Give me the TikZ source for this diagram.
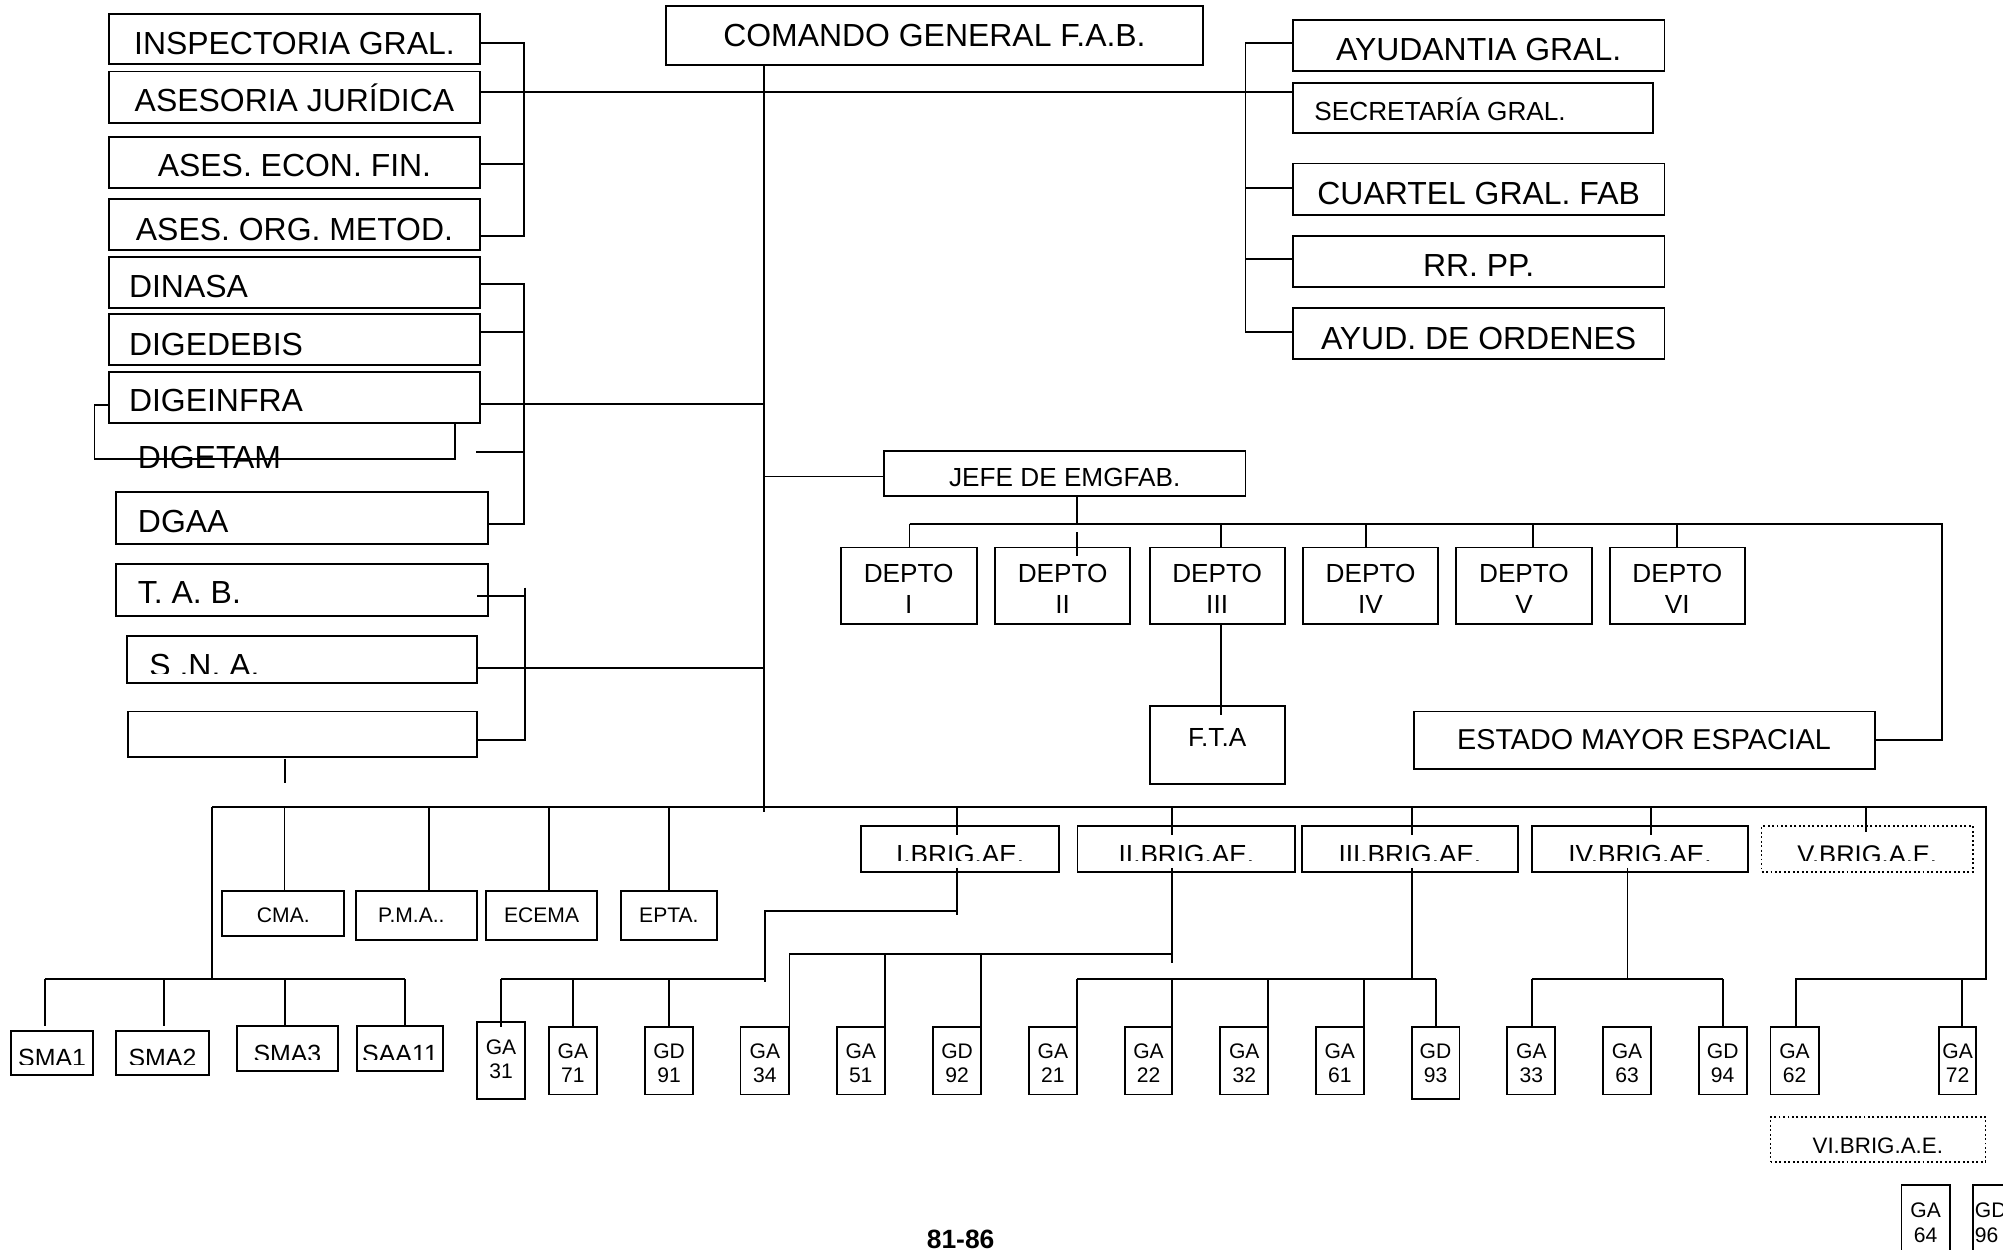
\documentclass[tikz,border=0pt]{standalone}
\usepackage{fontspec}
\setmainfont{Liberation Sans}
\newcommand\rbox[6][]{\node[box,#1,minimum width={(#5-#3)*1pt},minimum height={(#6-#4)*1pt}] (#2) at ({(#3+#5)/2},{(#4+#6)/2}) {};}
\newcommand\tx[5][]{\node[inner sep=0pt,outer sep=0pt,anchor=base,#1] (#2) at (#3,#4) {#5};}
\newcommand\ctx[6][]{\begin{scope}\clip ({#3-150},{#4-40}) rectangle ({#3+150},#5);\node[inner sep=0pt,outer sep=0pt,anchor=base,#1] (#2) at (#3,#4) {#6};\end{scope}}
\newcommand\gabox[8]{\rbox{#1}{#2}{#3}{#4}{#5}\tx[fS]{#1a}{{(#2+#4)/2}}{#8}{#6}\tx[fS]{#1b}{{(#2+#4)/2}}{{#8+19}}{#7}}
\begin{document}
\begin{tikzpicture}[x=1pt,y=-1pt,
  box/.style={draw,line width=1.5pt,inner sep=0pt,outer sep=0pt},
  ln/.style={line width=1.5pt},
  fL/.style={font=\fontsize{25}{30}\selectfont},
  fM/.style={font=\fontsize{20.5}{24}\selectfont},
  fE/.style={font=\fontsize{22.5}{26}\selectfont},
  fS/.style={font=\fontsize{16.5}{20}\selectfont},
  fSM/.style={font=\fontsize{19.5}{23}\selectfont},
  fV/.style={font=\fontsize{17.5}{21}\selectfont},
  fB/.style={font=\fontsize{20.7}{24}\selectfont\bfseries}]
\useasboundingbox (0,0) rectangle (1568,978.53);
\clip (0,0) rectangle (1568,978.53);

% ---------- left column ----------
\rbox{inspect}{85}{11}{376}{50}
\tx[fL]{tinspect}{230.5}{43}{INSPECTORIA GRAL.}
\rbox{aseso}{85}{56}{376}{96}
\tx[fL]{taseso}{230.5}{87.4}{ASESORIA JURÍDICA}
\rbox{econ}{85}{107}{376}{147}
\tx[fL]{tecon}{230.5}{138.3}{ASES. ECON. FIN.}
\rbox{org}{85}{156}{376}{196}
\tx[fL]{torg}{230.5}{188}{ASES. ORG. METOD.}
\rbox{dinasa}{85}{201}{376}{241}
\tx[fL,anchor=base west]{tdinasa}{101}{233}{DINASA}
\rbox{digede}{85}{246}{376}{286}
\tx[fL,anchor=base west]{tdigede}{101}{278}{DIGEDEBIS}
\rbox{digetam}{74}{317}{356}{359}
\rbox[fill=white]{digeinfra}{85}{291}{376}{331}
\tx[fL,anchor=base west]{tdigeinfra}{101}{322.3}{DIGEINFRA}
\tx[fL,anchor=base west]{tdigetam}{108}{366.7}{DIGETAM}
\rbox{dgaa}{91}{385}{382}{426}
\tx[fL,anchor=base west]{tdgaa}{108}{417}{DGAA}
\rbox{tab}{91}{441.6}{382}{482}
\tx[fL,anchor=base west]{ttab}{108}{472.4}{T. A. B.}
\rbox{sna}{99.7}{498}{373.2}{534.5}
\ctx[fL,anchor=base west]{tsna}{117}{529.5}{527.2}{S .N. A.}
\rbox{empty}{100}{557}{373.5}{592.5}

% ---------- top ----------
\rbox{comando}{521}{5}{942}{51}
\tx[fL]{tcomando}{731.5}{36.5}{COMANDO GENERAL F.A.B.}
\rbox{ayud}{1012}{15.7}{1303}{55.6}
\tx[fL]{tayud}{1157.5}{47.5}{AYUDANTIA GRAL.}
\rbox{secre}{1012}{65}{1294}{104}
\tx[fM,anchor=base west]{tsecre}{1029}{94}{SECRETARÍA GRAL.}
\rbox{cuartel}{1012}{128}{1303}{168}
\tx[fL]{tcuartel}{1157.5}{160}{CUARTEL GRAL. FAB}
\rbox{rrpp}{1012}{185}{1303}{225}
\tx[fL]{trrpp}{1157.5}{216.5}{RR. PP.}
\rbox{orden}{1012}{241}{1303}{281}
\tx[fL]{torden}{1157.5}{273.5}{AYUD. DE ORDENES}

% ---------- estado mayor ----------
\rbox{jefe}{692}{353}{975}{388}
\tx[fM]{tjefe}{833.5}{381}{JEFE DE EMGFAB.}
\rbox{dI}{658}{428.6}{764.6}{488.6}
\rbox{dII}{779}{428.6}{884.8}{488.6}
\rbox{dIII}{900}{428.6}{1005.6}{488.6}
\rbox{dIV}{1020}{428.6}{1125.8}{488.6}
\rbox{dV}{1140}{428.6}{1246}{488.6}
\rbox{dVI}{1260}{428.6}{1366}{488.6}
\tx[fM]{tdIa}{711.3}{456}{DEPTO}\tx[fM]{tdIb}{711.3}{480}{I}
\tx[fM]{tdIIa}{831.9}{456}{DEPTO}\tx[fM]{tdIIb}{831.9}{480}{II}
\tx[fM]{tdIIIa}{952.8}{456}{DEPTO}\tx[fM]{tdIIIb}{952.8}{480}{III}
\tx[fM]{tdIVa}{1072.9}{456}{DEPTO}\tx[fM]{tdIVb}{1072.9}{480}{IV}
\tx[fM]{tdVa}{1193}{456}{DEPTO}\tx[fM]{tdVb}{1193}{480}{V}
\tx[fM]{tdVIa}{1313}{456}{DEPTO}\tx[fM]{tdVIb}{1313}{480}{VI}
\rbox{fta}{900}{553}{1005.6}{614}
\tx[fM]{tfta}{952.8}{584}{F.T.A}
\rbox{estado}{1107}{557}{1467.7}{602}
\tx[fE]{testado}{1287}{587}{ESTADO MAYOR ESPACIAL}

% ---------- lower units ----------
\rbox{cma}{174}{697.4}{269.6}{733}
\tx[fS]{tcma}{221.8}{722.5}{CMA.}
\rbox{pma}{278.6}{697.4}{373.5}{735.6}
\tx[fS]{tpma}{322}{722.5}{P.M.A..}
\rbox{ecema}{380.6}{697.4}{467.4}{735.6}
\tx[fS]{tecema}{424}{722.5}{ECEMA}
\rbox{epta}{485.9}{697.4}{561.3}{735.6}
\tx[fS]{tepta}{523.6}{722.5}{EPTA.}

\rbox{brigI}{674}{646.8}{829.2}{682.5}
\ctx[fM]{tbrigI}{751.6}{676.3}{673.4}{I.BRIG.AE.}
\rbox{brigII}{843.5}{646.8}{1014}{682.5}
\ctx[fM]{tbrigII}{928.7}{676.3}{673.4}{II.BRIG.AE.}
\rbox{brigIII}{1019}{646.8}{1188.5}{682.5}
\ctx[fM]{tbrigIII}{1103.7}{676.3}{673.4}{III.BRIG.AE.}
\rbox{brigIV}{1199}{646.8}{1368.7}{682.5}
\ctx[fM]{tbrigIV}{1283.8}{676.3}{673.4}{IV.BRIG.AE.}
\rbox[dotted,line width=1.2pt]{brigV}{1379}{646.8}{1544.5}{682.5}
\ctx[font=\fontsize{20}{24}\selectfont]{tbrigV}{1461.7}{676.3}{673.4}{V.BRIG.A.E.}
\rbox[dotted,line width=1.2pt]{brigVI}{1386}{874.4}{1554.3}{909.6}
\tx[fV]{tbrigVI}{1470}{903}{VI.BRIG.A.E.}

\rbox{sma1}{8.6}{807}{73}{841.7}
\ctx[fSM]{tsma1}{40.8}{834.8}{833.4}{SMA1}
\rbox{sma2}{90.8}{807}{163.6}{841.7}
\ctx[fSM]{tsma2}{127.2}{834.8}{833.4}{SMA2}
\rbox{sma3}{185.3}{803.4}{264.9}{838.6}
\ctx[fSM]{tsma3}{225}{832}{829.5}{SMA3}
\rbox{saa11}{279.3}{803.4}{347.1}{838.6}
\ctx[fSM]{tsaa11}{313.2}{832}{829.5}{SAA11}

\gabox{ga31}{373.5}{800}{411}{860.6}{GA}{31}{825.5}
\gabox{ga71}{429.5}{804}{467.4}{856.8}{GA}{71}{828.6}
\gabox{gd91}{504.9}{804}{542.7}{856.8}{GD}{91}{828.6}
\gabox{ga34}{579.7}{804}{617.8}{856.8}{GA}{34}{828.6}
\gabox{ga51}{655}{804}{692.6}{856.8}{GA}{51}{828.6}
\gabox{gd92}{730.5}{804}{768}{856.8}{GD}{92}{828.6}
\gabox{ga21}{805.5}{804}{843}{856.8}{GA}{21}{828.6}
\gabox{ga22}{880.4}{804}{917.8}{856.8}{GA}{22}{828.6}
\gabox{ga32}{955.3}{804}{992.8}{856.8}{GA}{32}{828.6}
\gabox{ga61}{1030}{804}{1067.6}{856.8}{GA}{61}{828.6}
\gabox{gd93}{1105}{804}{1142.5}{860.6}{GD}{93}{828.6}
\gabox{ga33}{1180}{804}{1217.6}{856.8}{GA}{33}{828.6}
\gabox{ga63}{1255}{804}{1292.4}{856.8}{GA}{63}{828.6}
\gabox{gd94}{1329.8}{804}{1367.3}{856.8}{GD}{94}{828.6}
\gabox{ga62}{1386}{804}{1423.6}{856.8}{GA}{62}{828.6}
\gabox{ga72}{1518}{804}{1547}{856.8}{GA}{72}{828.6}
\gabox{ga64}{1488.5}{927.9}{1526.3}{990}{GA}{64}{953.3}
\rbox{gd96}{1544.3}{927.9}{1582}{990}
\tx[fS,anchor=base west]{tgd96a}{1546}{953.3}{GD}
\tx[fS,anchor=base west]{tgd96b}{1546}{972.3}{96}

\tx[fB]{tpage}{752}{977.2}{81-86}

% ---------- connectors ----------
% left brackets
\draw[ln] (inspect.east |- 0,34) -- (410,34) -- (410,184.6) -- (org.east |- 0,184.6);
\draw[ln] (econ.east |- 0,128.5) -- (410,128.5);
\draw[ln] (aseso.east |- 0,72) -- (secre.west |- 0,72);
\draw[ln] (dinasa.east |- 0,222) -- (410,222) -- (410,410) -- (dgaa.east |- 0,410);
\draw[ln] (digede.east |- 0,260) -- (410,260);
\draw[ln] (digeinfra.east |- 0,316) -- (598,316);
\draw[ln] (373,354) -- (410,354);
\draw[ln] (373.6,466.7) -- (410.7,466.7);
\draw[ln] (410.7,460) -- (410.7,579.4) -- (empty.east |- 0,579.4);
\draw[ln] (sna.east |- 0,522.8) -- (598,522.8);
\draw[ln] (223,594) -- (223,613);
% trunk
\draw[ln] (comando.south -| 598,0) -- (598,635.6);
% right bracket
\draw[ln] (ayud.west |- 0,34) -- (975,34) -- (975,260) -- (orden.west |- 0,260);
\draw[ln] (975,147.5) -- (cuartel.west |- 0,147.5);
\draw[ln] (975,203) -- (rrpp.west |- 0,203);
% jefe
\draw[ln] (598,373) -- (jefe.west |- 0,373);
\draw[ln] (jefe.south -| 843,0) -- (843,410);
\draw[ln] (712,410) -- (1520,410) -- (1520,579.6) -- (estado.east |- 0,579.6);
\draw[ln] (712,410) -- (dI.north -| 712,0);
\draw[ln] (843,416.8) -- (843,435);
\draw[ln] (955.7,410) -- (dIII.north -| 955.7,0);
\draw[ln] (1069,410) -- (dIV.north -| 1069,0);
\draw[ln] (1200,410) -- (dV.north -| 1200,0);
\draw[ln] (1313,410) -- (dVI.north -| 1313,0);
\draw[ln] (dIII.south -| 955.7,0) -- (955.7,560);
% bottom bus
\draw[ln] (166,632) -- (1554.5,632) -- (1554.5,766.6) -- (1405.6,766.6) -- (ga62.north -| 1405.6,0);
\draw[ln] (1536,766.6) -- (ga72.north -| 1536,0);
\draw[ln] (166,632) -- (166,766.6);
\draw[ln] (35.2,766.6) -- (317.1,766.6);
\draw[ln] (35.2,766.6) -- (35.2,803.4);
\draw[ln] (128.7,766.6) -- (128.7,803.4);
\draw[ln] (223.2,766.6) -- (sma3.north -| 223.2,0);
\draw[ln] (317.1,766.6) -- (saa11.north -| 317.1,0);
\draw[ln] (222.7,632) -- (cma.north -| 222.7,0);
\draw[ln] (335.6,632) -- (pma.north -| 335.6,0);
\draw[ln] (430,632) -- (ecema.north -| 430,0);
\draw[ln] (523.8,632) -- (epta.north -| 523.8,0);
% brigade stubs
\draw[ln] (749,632) -- (749,653.8);
\draw[ln] (917.8,632) -- (917.8,654);
\draw[ln] (1105,632) -- (1105,654);
\draw[ln] (1292.4,632) -- (1292.4,654);
\draw[ln] (1461,632) -- (1461,651);
% I brig
\draw[ln] (749,679.4) -- (749,716.5);
\draw[ln] (749,713) -- (599,713) -- (599,769);
\draw[ln] (392,766.6) -- (599,766.6);
\draw[ln] (392,766.6) -- (392,804);
\draw[ln] (448.4,766.6) -- (ga71.north -| 448.4,0);
\draw[ln] (523.8,766.6) -- (gd91.north -| 523.8,0);
% II brig
\draw[ln] (917.8,679.4) -- (917.8,753.8);
\draw[ln] (618,747) -- (917.8,747);
\draw[ln] (618,747) -- (ga34.north -| 618,0);
\draw[ln] (692.6,747) -- (ga51.north -| 692.6,0);
\draw[ln] (768,747) -- (gd92.north -| 768,0);
% III brig
\draw[ln] (1105,679.4) -- (1105,766.6);
\draw[ln] (843,766.6) -- (1124,766.6);
\draw[ln] (843,766.6) -- (ga21.north -| 843,0);
\draw[ln] (917.8,766.6) -- (ga22.north -| 917.8,0);
\draw[ln] (992.8,766.6) -- (ga32.north -| 992.8,0);
\draw[ln] (1067.6,766.6) -- (ga61.north -| 1067.6,0);
\draw[ln] (1124,766.6) -- (gd93.north -| 1124,0);
% IV brig
\draw[ln] (1274,679.4) -- (1274,766.6);
\draw[ln] (1199,766.6) -- (1348.8,766.6);
\draw[ln] (1199,766.6) -- (ga33.north -| 1199,0);
\draw[ln] (1348.8,766.6) -- (gd94.north -| 1348.8,0);
\end{tikzpicture}
\end{document}
